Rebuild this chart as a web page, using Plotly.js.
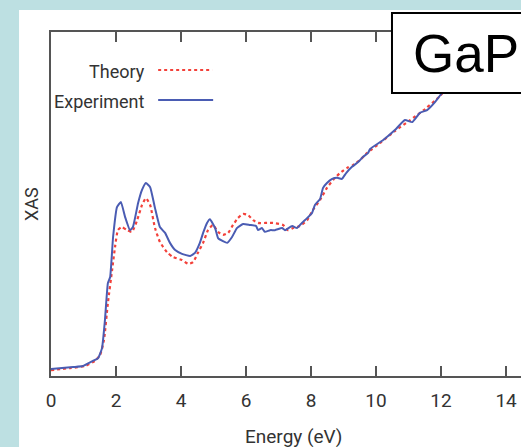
<!DOCTYPE html>
<html>
<head>
<meta charset="utf-8">
<script src="https://cdn.plot.ly/plotly-3.0.1.min.js"></script>
<style>
html,body{margin:0;padding:0;background:#bde0e2;}
#chart{width:521px;height:447px;}
</style>
</head>
<body>
<div id="chart"></div>
<script>
// Experiment (blue solid)
const energyExp = [0.00,0.68,0.98,1.29,1.45,1.57,1.66,1.75,1.82,1.91,2.03,2.15,2.28,2.43,2.52,2.68,2.80,2.92,3.05,3.20,3.35,3.51,3.66,3.82,4.03,4.28,4.43,4.58,4.68,4.80,4.89,5.05,5.14,5.29,5.42,5.57,5.72,5.91,6.12,6.31,6.37,6.49,6.58,6.74,6.89,7.11,7.20,7.42,7.57,7.72,7.88,8.03,8.12,8.28,8.37,8.49,8.65,8.80,8.95,9.08,9.26,9.45,9.60,9.75,9.82,10.22,10.58,10.89,11.11,11.35,11.57,11.82,12.03,12.5,13.0,13.5];
const xasExp = [0.20,0.26,0.29,0.44,0.52,0.81,1.63,2.70,2.88,4.04,4.91,5.06,4.62,4.24,4.33,5.03,5.41,5.61,5.49,4.88,4.33,4.16,3.87,3.66,3.55,3.49,3.58,3.87,4.16,4.45,4.56,4.30,4.01,3.92,3.87,4.04,4.30,4.42,4.39,4.36,4.24,4.30,4.19,4.24,4.24,4.30,4.24,4.36,4.30,4.45,4.59,4.74,4.97,5.15,5.47,5.61,5.73,5.76,5.73,5.90,6.08,6.22,6.37,6.48,6.60,6.86,7.15,7.44,7.38,7.65,7.73,7.97,8.23,8.80,9.30,9.80];
// Theory (red dotted)
const energyTheory = [0.00,0.58,1.05,1.35,1.51,1.63,1.75,1.88,1.97,2.06,2.18,2.34,2.49,2.65,2.80,2.92,3.05,3.20,3.35,3.57,3.75,4.03,4.22,4.37,4.52,4.68,4.83,4.98,5.14,5.29,5.45,5.60,5.75,5.91,6.06,6.22,6.37,6.65,6.83,7.14,7.29,7.45,7.66,7.88,8.06,8.28,8.49,8.68,8.89,9.11,9.29,9.51,9.72,10.12,10.58,11.05,11.51,11.97,12.5,13.0,13.5];
const xasTheory = [0.17,0.23,0.29,0.44,0.61,1.05,2.12,3.08,3.75,4.24,4.33,4.24,4.19,4.53,4.97,5.17,4.97,4.30,3.90,3.60,3.46,3.37,3.26,3.31,3.58,3.87,4.24,4.39,4.19,4.10,4.16,4.39,4.59,4.71,4.68,4.53,4.45,4.45,4.45,4.39,4.24,4.30,4.36,4.53,4.83,5.12,5.47,5.70,5.90,6.05,6.13,6.28,6.48,6.77,7.12,7.44,7.76,8.14,8.75,9.30,9.85];
const tickVals = [0,2,4,6,8,10,12,14];
const tickText = ['0','2','4','6','8','10','12','14'];
const seriesNames = ['Theory','Experiment'];
const panelLabel = 'GaP';
const xTitle = 'Energy (eV)';
const yTitle = 'XAS';

const BLUE = '#4a5cb3';
const RED = '#f3413a';
const AXIS = '#555555';
const TXT = '#333333';
const FONT = 'Roboto, sans-serif';

const traces = [
  {x: energyTheory, y: xasTheory, type:'scatter', mode:'lines', name: seriesNames[0],
   line:{color:RED, width:2.2, dash:'dot', shape:'spline', smoothing:0.5}, showlegend:false},
  {x: energyExp, y: xasExp, type:'scatter', mode:'lines', name: seriesNames[1],
   line:{color:BLUE, width:2, shape:'spline', smoothing:0.4}, showlegend:false}
];

const layout = {
  width:521, height:447,
  margin:{l:51, r:0, t:32, b:71, pad:0},
  paper_bgcolor:'#bde0e2',
  plot_bgcolor:'rgba(0,0,0,0)',
  font:{family:FONT, color:TXT},
  xaxis:{range:[0,14.46], tickvals:tickVals, ticktext:tickText, ticks:'inside', ticklen:10, tickwidth:2,
         tickcolor:AXIS, showline:true, linecolor:AXIS, linewidth:2, mirror:'ticks',
         showgrid:false, zeroline:false, tickfont:{family:FONT, size:19, color:TXT}, ticklabelstandoff:6},
  yaxis:{range:[0,10], showline:true, linecolor:AXIS, linewidth:2, ticks:'', showticklabels:false,
         showgrid:false, zeroline:false},
  shapes:[
    {type:'rect', xref:'paper', yref:'paper', x0:-0.068, x1:1.1, y0:-0.4, y1:1.064,
     fillcolor:'#ffffff', line:{width:0}, layer:'below'},
    {type:'line', xref:'paper', yref:'paper', x0:0.228, x1:0.343, y0:0.8895, y1:0.8895,
     line:{color:RED, width:2.2, dash:'dot'}},
    {type:'line', xref:'paper', yref:'paper', x0:0.228, x1:0.345, y0:0.802, y1:0.802,
     line:{color:BLUE, width:2}},
    {type:'rect', xref:'paper', yref:'paper', x0:0.7255, x1:1.1, y0:0.8227, y1:1.055,
     fillcolor:'#ffffff', line:{color:'#000000', width:2}, layer:'above'}
  ],
  annotations:[
    {text:seriesNames[0], xref:'paper', yref:'paper', x:0.204, y:0.884, xanchor:'right', yanchor:'middle',
     showarrow:false, font:{family:FONT, size:18, color:TXT}},
    {text:seriesNames[1], xref:'paper', yref:'paper', x:0.204, y:0.799, xanchor:'right', yanchor:'middle',
     showarrow:false, font:{family:FONT, size:18, color:TXT}},
    {text:panelLabel, xref:'paper', yref:'paper', x:0.883, y:0.9375, xanchor:'center', yanchor:'middle',
     showarrow:false, font:{family:'Liberation Sans, Arial, sans-serif', size:53, color:'#000000'}},
    {text:xTitle, xref:'paper', yref:'paper', x:0.517, y:-0.176, xanchor:'center', yanchor:'middle',
     showarrow:false, font:{family:FONT, size:19, color:TXT}},
    {text:yTitle, xref:'paper', yref:'paper', x:-0.0426, y:0.5, xanchor:'center', yanchor:'middle',
     textangle:-90, showarrow:false, font:{family:FONT, size:18, color:TXT}}
  ]
};

Plotly.newPlot('chart', traces, layout, {displayModeBar:false, staticPlot:true});
</script>
</body>
</html>
